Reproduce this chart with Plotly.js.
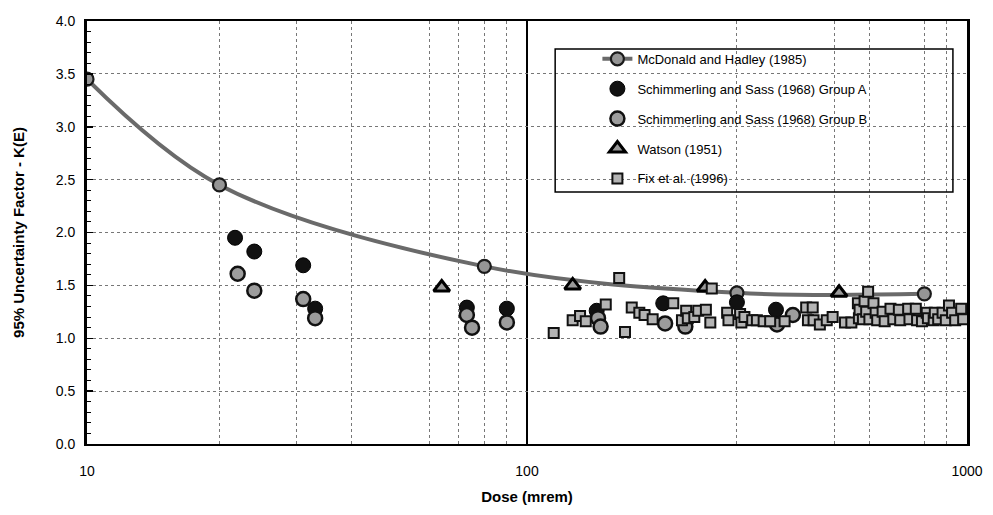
<!DOCTYPE html>
<html>
<head>
<meta charset="utf-8">
<script src="https://cdn.plot.ly/plotly-3.0.1.min.js"></script>
<style>html,body{margin:0;padding:0;background:#fff;}#chart{width:993px;height:515px;}</style>
</head>
<body>
<div id="chart"></div>
<script>
// McDonald and Hadley (1985)
const mcdX = [10, 20, 80, 300, 800];
const mcdY = [3.45, 2.45, 1.68, 1.43, 1.42];
// Schimmerling and Sass (1968) Group A
const grpAX = [21.7, 24, 31, 33, 73, 90, 144, 204, 300, 368];
const grpAY = [1.95, 1.82, 1.69, 1.28, 1.29, 1.28, 1.26, 1.33, 1.34, 1.27];
// Schimmerling and Sass (1968) Group B
const grpBX = [22, 24, 31, 33, 73, 75, 90, 145, 147, 206, 229, 370, 402];
const grpBY = [1.61, 1.45, 1.37, 1.19, 1.22, 1.10, 1.15, 1.19, 1.11, 1.14, 1.11, 1.13, 1.22];
// Watson (1951)
const watX = [64, 127, 254, 512];
const watY = [1.48, 1.50, 1.48, 1.43];
// Fix et al. (1996)
const fixX = [115, 127, 132, 136, 151, 162, 167, 173, 180, 185, 193, 215, 225, 230, 232, 240, 245, 255, 261, 263,
  285, 287, 305, 307, 312, 325, 333, 345, 357, 385, 431, 435, 446, 448, 463, 480, 495, 528, 546, 565,
  568, 570, 580, 585, 590, 596, 600, 613, 620, 625, 643, 650, 670, 680, 700, 705, 735, 740, 765, 770,
  790, 810, 815, 840, 845, 860, 880, 895, 910, 925, 940, 970, 980];
const fixY = [1.05, 1.17, 1.21, 1.16, 1.32, 1.57, 1.06, 1.29, 1.24, 1.22, 1.18, 1.33, 1.17, 1.26, 1.19, 1.20, 1.26, 1.27, 1.15, 1.47,
  1.24, 1.17, 1.23, 1.15, 1.20, 1.17, 1.17, 1.16, 1.16, 1.16, 1.29, 1.17, 1.29, 1.17, 1.13, 1.17, 1.20, 1.15, 1.15, 1.33,
  1.19, 1.27, 1.18, 1.35, 1.25, 1.44, 1.18, 1.33, 1.24, 1.17, 1.25, 1.16, 1.28, 1.18, 1.27, 1.17, 1.28, 1.18, 1.28, 1.17,
  1.16, 1.24, 1.19, 1.17, 1.24, 1.18, 1.24, 1.17, 1.31, 1.24, 1.17, 1.28, 1.18];
// tick labels
const xTickVals = [10, 100, 1000];
const xTickText = ['10', '100', '1000'];
const xMinorVals = [20, 30, 40, 60, 70, 80, 90, 300, 500, 600, 800, 900];
const yTickVals = [0, 0.5, 1, 1.5, 2, 2.5, 3, 3.5, 4];

const FONT = 'Liberation Sans, Arial, sans-serif';

const traces = [
  {x: mcdX, y: mcdY, name: 'McDonald and Hadley (1985)', mode: 'lines+markers', legendgroup: 'a',
   line: {color: '#6a6a6a', width: 4, shape: 'spline'},
   marker: {symbol: 'circle', size: 13, color: '#959595', line: {color: '#1a1a1a', width: 2.2}}},
  {x: grpAX, y: grpAY, name: 'Schimmerling and Sass (1968) Group A', mode: 'markers', legendgroup: 'b',
   marker: {symbol: 'circle', size: 15, color: '#111', line: {color: '#000', width: 1}}},
  {x: grpBX, y: grpBY, name: 'Schimmerling and Sass (1968) Group B', mode: 'markers', legendgroup: 'c',
   marker: {symbol: 'circle', size: 14, color: '#9c9c9c', line: {color: '#111', width: 2.5}}},
  {x: watX, y: watY, name: 'Watson (1951)', mode: 'markers', legendgroup: 'd',
   marker: {symbol: 'triangle-up', size: 14, color: '#9a9a9a', line: {color: '#000', width: 3}}},
  {x: fixX, y: fixY, name: 'Fix et al. (1996)', mode: 'markers', legendgroup: 'e',
   marker: {symbol: 'square', size: 10, color: '#b4b4b4', line: {color: '#111', width: 2}}}
];

const layout = {
  width: 993, height: 515,
  paper_bgcolor: '#fff', plot_bgcolor: '#fff',
  margin: {l: 87, r: 26, t: 21, b: 71, pad: 0},
  font: {family: FONT, color: '#000'},
  showlegend: true,
  legend: {x: 0.58, y: 0.946, xanchor: 'left', yanchor: 'top', bgcolor: 'rgba(255,255,255,0)',
    borderwidth: 0, traceorder: 'grouped', tracegroupgap: 10,
    font: {family: FONT, size: 13, color: '#000'}},
  xaxis: {
    type: 'log', range: [1, 3], tickvals: xTickVals, ticktext: xTickText,
    showline: true, mirror: true, linecolor: '#000', linewidth: 2,
    ticks: '', showgrid: true, gridcolor: '#000', gridwidth: 1.5, zeroline: false,
    minor: {tickmode: 'array', tickvals: xMinorVals, showgrid: true, gridcolor: '#777', griddash: 'dot', gridwidth: 1, ticks: ''},
    tickfont: {family: FONT, size: 14, color: '#000'}, ticklabelstandoff: 13,
    title: {text: 'Dose (mrem)', font: {family: FONT, size: 15, weight: 'bold', color: '#000'}, standoff: 14}
  },
  yaxis: {
    range: [0, 4], tickvals: yTickVals, tickformat: '.1f',
    showline: true, mirror: true, linecolor: '#000', linewidth: 3,
    ticks: 'inside', ticklen: 6, tickwidth: 1.5, tickcolor: '#000',
    minor: {dtick: 0.1, ticks: 'inside', ticklen: 4, tickwidth: 1, tickcolor: '#000', showgrid: false},
    showgrid: true, gridcolor: '#777', griddash: 'dot', gridwidth: 1, zeroline: false,
    tickfont: {family: FONT, size: 14, color: '#000'}, ticklabelstandoff: 6,
    title: {text: '95% Uncertainty Factor - K(E)', font: {family: FONT, size: 15, weight: 'bold', color: '#000'}, standoff: 28}
  },
  shapes: [
    {type: 'rect', xref: 'paper', yref: 'paper', x0: 0.532, x1: 0.984, y0: 0.596, y1: 0.934,
     line: {color: '#000', width: 1.5}, fillcolor: 'rgba(0,0,0,0)', layer: 'above'}
  ]
};

Plotly.newPlot('chart', traces, layout, {displayModeBar: false, staticPlot: true});
</script>
</body>
</html>
